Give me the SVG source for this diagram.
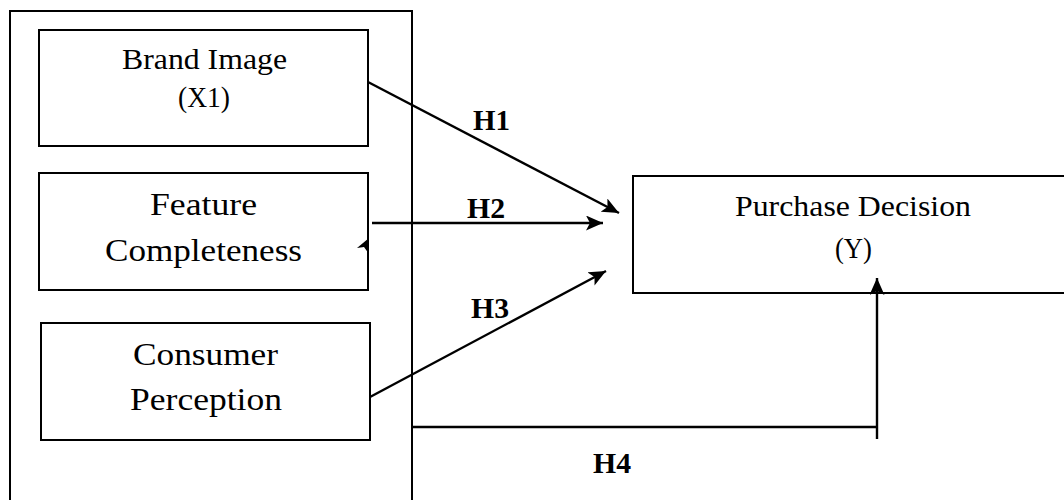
<svg xmlns="http://www.w3.org/2000/svg" width="1064" height="500" viewBox="0 0 1064 500">
  <style>
    .box { fill: #ffffff; stroke: #000000; stroke-width: 2; }
    .lbl { font-family: "Liberation Serif", "Times New Roman", serif; fill: #000000; }
    .hyp { font-family: "Liberation Serif", "Times New Roman", serif; font-weight: bold; font-size: 30px; fill: #000000; }
    .conn { stroke: #000000; stroke-width: 2.4; fill: none; }
  </style>
  <defs>
    <marker id="arrow" markerUnits="userSpaceOnUse" markerWidth="18" markerHeight="15" refX="17" refY="7.5" orient="auto">
      <path d="M0,0 L17,7.5 L0,15 L4,7.5 z" fill="#000000"/>
    </marker>
  </defs>

  <rect width="1064" height="500" fill="#ffffff"/>

  <!-- grouping frame around the independent variables -->
  <g id="frame">
    <rect class="box" x="10" y="11" width="402" height="520"/>
  </g>

  <g id="brand-image">
    <rect class="box" x="39" y="30" width="329" height="116"/>
    <text class="lbl" x="122" y="69" font-size="29" textLength="165" lengthAdjust="spacingAndGlyphs">Brand Image</text>
    <text class="lbl" x="178" y="107" font-size="29" textLength="52" lengthAdjust="spacingAndGlyphs">(X1)</text>
  </g>

  <g id="feature-completeness">
    <rect class="box" x="39" y="173" width="329" height="117"/>
    <text class="lbl" x="150" y="215" font-size="32" textLength="107" lengthAdjust="spacingAndGlyphs">Feature</text>
    <text class="lbl" x="105" y="261" font-size="32" textLength="197" lengthAdjust="spacingAndGlyphs">Completeness</text>
  </g>

  <g id="consumer-perception">
    <rect class="box" x="41" y="323" width="329" height="117"/>
    <text class="lbl" x="133" y="365" font-size="32" textLength="145" lengthAdjust="spacingAndGlyphs">Consumer</text>
    <text class="lbl" x="130" y="410" font-size="32" textLength="152" lengthAdjust="spacingAndGlyphs">Perception</text>
  </g>

  <g id="purchase-decision">
    <rect class="box" x="633" y="176" width="500" height="117"/>
    <text class="lbl" x="735" y="216" font-size="30" textLength="236" lengthAdjust="spacingAndGlyphs">Purchase Decision</text>
    <text class="lbl" x="835" y="258" font-size="30" textLength="37" lengthAdjust="spacingAndGlyphs">(Y)</text>
  </g>

  <g id="connectors">
    <line class="conn" x1="368" y1="82" x2="619" y2="213" marker-end="url(#arrow)"/>
    <line class="conn" x1="372" y1="223" x2="603" y2="223" marker-end="url(#arrow)"/>
    <line class="conn" x1="370" y1="397" x2="606" y2="271" marker-end="url(#arrow)"/>
    <line class="conn" x1="413" y1="427" x2="878" y2="427"/>
    <line class="conn" x1="877" y1="439" x2="877" y2="278" marker-end="url(#arrow)"/>
    <!-- stray arrowhead on the right edge of the middle box -->
    <path d="M357,248 L369,238 L369,254 L364,247 z" fill="#000000"/>
  </g>

  <g id="hypotheses">
    <text class="hyp" x="473" y="130" textLength="37" lengthAdjust="spacingAndGlyphs">H1</text>
    <text class="hyp" x="467" y="218" textLength="38" lengthAdjust="spacingAndGlyphs">H2</text>
    <text class="hyp" x="471" y="318" textLength="38" lengthAdjust="spacingAndGlyphs">H3</text>
    <text class="hyp" x="593" y="473" textLength="38" lengthAdjust="spacingAndGlyphs">H4</text>
  </g>
</svg>
